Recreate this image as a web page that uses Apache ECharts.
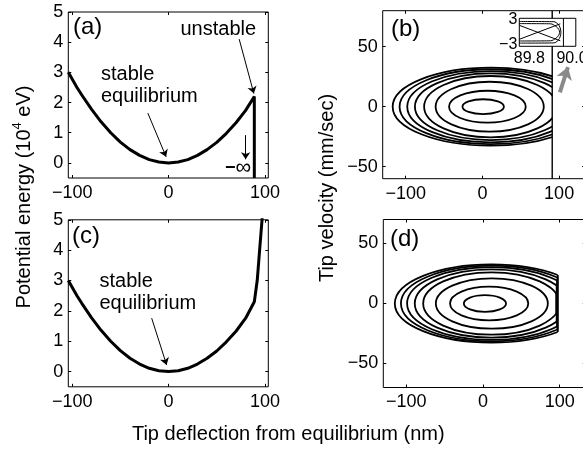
<!DOCTYPE html>
<html><head><meta charset="utf-8">
<script src="https://cdn.jsdelivr.net/npm/echarts@6/dist/echarts.min.js"></script>
<style>html,body{margin:0;padding:0;background:#fff}#c{width:583px;height:451px}</style>
</head><body><div id="c"></div>
<script>
const FONT = "'Liberation Sans', Arial, Helvetica, sans-serif";

// ---- Panel (a): potential energy (10^4 eV) vs tip deflection (nm)
const deflectionA = [-104, -95, -90, -80, -70, -60, -50, -40, -30, -20, -10, 0, 10, 20, 30, 40, 50, 60, 70, 80, 89, 89];
const energyA     = [3.0, 2.5, 2.25, 1.78, 1.36, 1.0, 0.69, 0.44, 0.25, 0.11, 0.03, 0, 0.03, 0.11, 0.25, 0.44, 0.68, 0.98, 1.33, 1.74, 2.2, -0.5];

// ---- Panel (c)
const deflectionC = [-104, -95, -90, -80, -70, -60, -50, -40, -30, -20, -10, 0, 10, 20, 30, 40, 50, 60, 70, 80, 89, 92, 94.5, 97, 98.5];
const energyC     = [3.0, 2.5, 2.25, 1.78, 1.36, 1.0, 0.69, 0.44, 0.25, 0.11, 0.03, 0, 0.03, 0.11, 0.25, 0.44, 0.68, 0.98, 1.33, 1.76, 2.3, 3.0, 4.0, 5.0, 5.6];

// ---- Panel (b): phase-space orbits (centre, half-width in nm, half-height in mm/sec)
const orbitCenterB     = [1, 6.5, 9.5, 10.5, 11, 11, 11, 11];
const orbitHalfWidthB  = [27, 50, 70.5, 86.5, 99, 109, 119, 128];
const orbitHalfHeightB = [6.2, 13.3, 20.8, 25.6, 27.8, 29.7, 31.2, 32.5];
const escapeLineB = 91;

// ---- Panel (d)
const orbitCenterD     = [2.5, 8, 11.5, 11, 11, 11, 11, 11];
const orbitHalfWidthD  = [27.5, 51, 73, 89, 100, 110, 118, 126];
const orbitHalfHeightD = [7, 14, 21, 26, 28.5, 30.3, 31.5, 32.6];
const wallD            = [96, 96, 96, 95.5, 96, 96.5, 97, 97.5];

// ---- Inset of (b)
const insetCross1 = [[89.753, 1.65], [89.945, -2.0]];
const insetCross2 = [[89.753, -1.65], [89.945, 2.0]];
const insetLoop1 = [[89.753, 2.55], [89.915, 2.5], [89.935, 1.9], [89.945, 1.0], [89.948, 0], [89.945, -1.0], [89.935, -1.9], [89.915, -2.5], [89.753, -2.55]];
const insetLoop2 = [[89.753, 2.05], [89.90, 2.0], [89.925, 1.4], [89.938, 0.7], [89.942, 0], [89.938, -0.7], [89.925, -1.4], [89.90, -2.0], [89.753, -2.05]];
const insetWall = [[89.96, -3.3], [89.96, 3.3]];

// ---- Annotation arrows (data coordinates)
const arrowStableA   = [[-21.5, 1.65], [-2.5, 0.2]];
const arrowUnstableA = [[73.3, 4.1], [88.5, 2.3]];
const arrowDownA     = [[80, 0.92], [80, 0.12]];
const arrowStableC   = [[-17.5, 1.76], [-2, 0.22]];
const arrowInsetB    = [[101, 12], [111.5, 33]];

// ---- Tick values
const ticksEnergy = [0, 1, 2, 3, 4, 5];
const ticksDeflection = [-100, 0, 100];
const ticksVelocity = [-50, 0, 50];
const ticksInsetX = [89.8, 90.0];
const ticksInsetY = [-3, 3];

const zip = (xs, ys) => xs.map((x, i) => [x, ys[i]]);
const fmt = v => String(v).replace('-', '\u2212');

function axis(kind, gridIndex, min, max, ticks, position, labels, opts) {
  opts = opts || {};
  return {
    type: 'value', gridIndex, min, max, position,
    axisLine: { show: false, onZero: false }, splitLine: { show: false },
    axisTick: { show: opts.noTick ? false : true, inside: true, length: 3, lineStyle: { color: '#000', width: 1 }, customValues: ticks },
    axisLabel: { show: labels, customValues: ticks, color: '#000', fontSize: opts.fs || 18, fontFamily: FONT,
      margin: opts.margin != null ? opts.margin : 5, formatter: opts.formatter || fmt }
  };
}

const gridBase = { show: true, borderColor: '#000', borderWidth: 1, backgroundColor: '#fff', outerBoundsMode: 'none', containLabel: false };
const grids = [
  Object.assign({ left: 68.3, top: 12, width: 200, height: 166 }, gridBase),
  Object.assign({ left: 382.7, top: 10.7, width: 202.5, height: 168 }, gridBase),
  Object.assign({ left: 68.3, top: 219.8, width: 200, height: 167 }, gridBase),
  Object.assign({ left: 383.3, top: 219.5, width: 202.5, height: 168 }, gridBase),
  Object.assign({ left: 519.3, top: 18.3, width: 56.5, height: 28, z: 10 }, gridBase)
];

const xAxes = [
  axis('x', 0, -104, 103.5, ticksDeflection, 'bottom', true, { margin: 6 }),
  axis('x', 0, -104, 103.5, ticksDeflection, 'top', false),
  axis('x', 1, -130, 134, ticksDeflection, 'bottom', true, { margin: 6 }),
  axis('x', 1, -130, 134, ticksDeflection, 'top', false),
  axis('x', 2, -104, 103.5, ticksDeflection, 'bottom', true, { margin: 6 }),
  axis('x', 2, -104, 103.5, ticksDeflection, 'top', false),
  axis('x', 3, -130, 134, ticksDeflection, 'bottom', true, { margin: 6 }),
  axis('x', 3, -130, 134, ticksDeflection, 'top', false),
  axis('x', 4, 89.753, 90.018, ticksInsetX, 'bottom', true, { fs: 16, margin: 4, noTick: true, formatter: v => v.toFixed(1) })
];
const yAxes = [
  axis('y', 0, -0.5, 5, ticksEnergy, 'left', true),
  axis('y', 0, -0.5, 5, ticksEnergy, 'right', false),
  axis('y', 1, -60, 80, ticksVelocity, 'left', true, { margin: 5 }),
  axis('y', 1, -60, 80, ticksVelocity, 'right', false),
  axis('y', 2, -0.5, 5, ticksEnergy, 'left', true),
  axis('y', 2, -0.5, 5, ticksEnergy, 'right', false),
  axis('y', 3, -70, 70, ticksVelocity, 'left', true, { margin: 5 }),
  axis('y', 3, -70, 70, ticksVelocity, 'right', false),
  axis('y', 4, -3.3, 3.3, ticksInsetY, 'left', true, { fs: 16, margin: 2, noTick: true })
];

function renderOrbit(params, api) {
  const cx = api.value(0), rx = api.value(2), ry = api.value(3), cut = api.value(4), wall = api.value(5);
  const c = api.coord([cx, 0]);
  const s = api.size([rx, ry]);
  const prx = s[0], pry = s[1];
  const cutPx = api.coord([cut, 0])[0];
  const left = c[0] - prx - 4;
  const children = [{
    type: 'ellipse',
    shape: { cx: c[0], cy: c[1], rx: prx, ry: pry },
    style: { fill: 'none', stroke: '#000', lineWidth: 1.8 },
    clipPath: { type: 'rect', shape: { x: left, y: c[1] - pry - 4, width: cutPx - left, height: 2 * pry + 8 } }
  }];
  if (wall && cutPx < c[0] + prx) {
    const t = (cutPx - c[0]) / prx;
    const h = pry * Math.sqrt(1 - t * t);
    children.push({ type: 'line', shape: { x1: cutPx, y1: c[1] - h, x2: cutPx, y2: c[1] + h }, style: { stroke: '#000', lineWidth: 1.8 } });
  }
  return { type: 'group', children };
}

const orbitsB = orbitCenterB.map((c, i) => [c, 0, orbitHalfWidthB[i], orbitHalfHeightB[i], escapeLineB, 0]);
const orbitsD = orbitCenterD.map((c, i) => [c, 0, orbitHalfWidthD[i], orbitHalfHeightD[i], wallD[i], 1]);

function curve(data, xi, width, extra) {
  return Object.assign({ type: 'line', xAxisIndex: xi, yAxisIndex: xi, data, showSymbol: false, symbol: 'none',
    lineStyle: { color: '#000', width }, clip: true, silent: true }, extra || {});
}
function arrows(list, xi, color, width, size) {
  return { type: 'lines', coordinateSystem: 'cartesian2d', xAxisIndex: xi, yAxisIndex: xi,
    symbol: ['none', 'arrow'], symbolSize: size, silent: true,
    lineStyle: { color, width, opacity: 1 }, data: list.map(c => ({ coords: c })), z: 5 };
}

const series = [
  curve(zip(deflectionA, energyA), 0, 3),
  curve(zip(deflectionC, energyC), 4, 3),
  curve([[escapeLineB, -60], [escapeLineB, 80]], 2, 1.4),
  { type: 'custom', xAxisIndex: 2, yAxisIndex: 2, data: orbitsB, encode: { x: 0, y: 1 }, renderItem: renderOrbit, clip: true, silent: true },
  { type: 'custom', xAxisIndex: 6, yAxisIndex: 6, data: orbitsD, encode: { x: 0, y: 1 }, renderItem: renderOrbit, clip: true, silent: true },
  curve(insetCross1, 8, 1, { z: 12 }),
  curve(insetCross2, 8, 1, { z: 12 }),
  curve(insetLoop1, 8, 1, { z: 12, smooth: 0.3 }),
  curve(insetLoop2, 8, 1, { z: 12, smooth: 0.3 }),
  curve(insetWall, 8, 1, { z: 12 }),
  arrows([arrowStableA, arrowUnstableA, arrowDownA], 0, '#000', 1, 7),
  arrows([arrowStableC], 4, '#000', 1, 7),
  arrows([arrowInsetB], 2, '#8a8a8a', 4, 12)
];

function txt(text, x, y, fs, align) {
  return { type: 'text', x, y, silent: true, z: 20,
    style: { text, fill: '#000', font: fs + 'px ' + FONT, fontSize: fs, fontFamily: FONT,
      align: align || 'left', verticalAlign: 'middle', textAlign: align || 'left', textVerticalAlign: 'middle' } };
}

const graphic = [
  txt('(a)', 73, 27.5, 24),
  txt('unstable', 180.5, 29.8, 20),
  txt('stable', 101, 74.8, 20),
  txt('equilibrium', 101, 96.4, 20),
  { type: 'text', x: 225, y: 168, silent: true, z: 20,
    style: { text: '{m|\u2212}{i|\u221e}', fill: '#000', align: 'left', verticalAlign: 'middle',
      rich: { m: { fontSize: 18, fontWeight: 'bold', fontFamily: FONT }, i: { fontSize: 22, fontFamily: FONT } } } },
  txt('(c)', 72, 235.9, 24),
  txt('stable', 99.5, 281.4, 20),
  txt('equilibrium', 99.5, 303, 20),
  txt('(b)', 391, 29.2, 24),
  txt('(d)', 390, 239.2, 24),
  txt('Tip deflection from equilibrium (nm)', 288.3, 434, 20, 'center'),
  { type: 'text', x: 24, y: 197, rotation: Math.PI / 2, silent: true, z: 20,
    style: { text: '{n|Potential energy (10}{s|4}{n| eV)}', fill: '#000', align: 'center', verticalAlign: 'middle',
      rich: { n: { fontSize: 20, fontFamily: FONT, lineHeight: 26 }, s: { fontSize: 13, fontFamily: FONT, verticalAlign: 'top', lineHeight: 13 } } } },
  { type: 'text', x: 327, y: 188, rotation: Math.PI / 2, silent: true, z: 20,
    style: { text: 'Tip velocity (mm/sec)', fill: '#000', font: '20px ' + FONT, fontSize: 20, fontFamily: FONT,
      align: 'center', verticalAlign: 'middle', textAlign: 'center', textVerticalAlign: 'middle' } }
];

const chart = echarts.init(document.getElementById('c'), null, { renderer: 'canvas' });
chart.setOption({
  animation: false,
  backgroundColor: '#fff',
  textStyle: { fontFamily: FONT },
  grid: grids,
  xAxis: xAxes,
  yAxis: yAxes,
  series,
  graphic
});
</script></body></html>
